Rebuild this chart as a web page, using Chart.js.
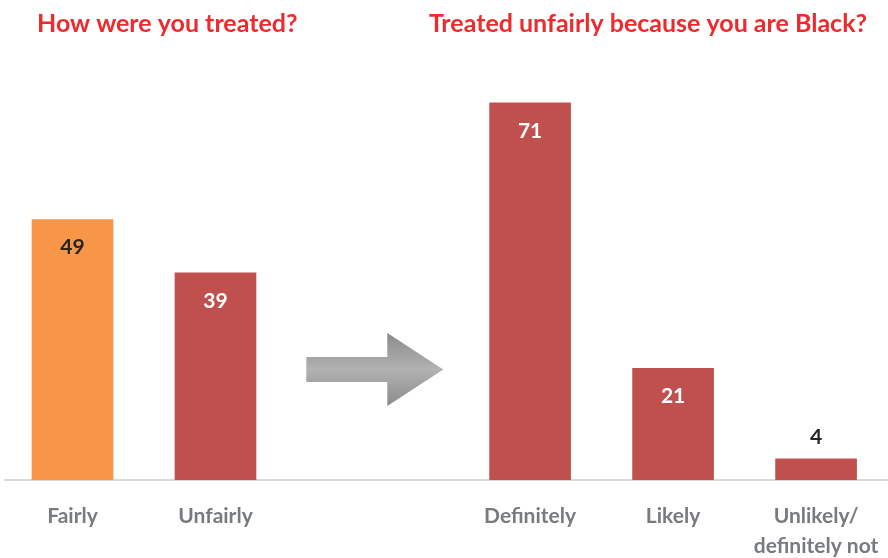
<!DOCTYPE html>
<html>
<head>
<meta charset="utf-8">
<script src="https://cdn.jsdelivr.net/npm/chart.js@4"></script>
<style>
  html, body { margin: 0; padding: 0; background: #ffffff; }
  #wrap { width: 888px; height: 558px; }
</style>
</head>
<body>
<div id="wrap"><canvas id="c" width="888" height="558"></canvas></div>
<script>
// ---- data ----
const titles = ['How were you treated?', 'Treated unfairly because you are Black?'];
const categories = ['Fairly', 'Unfairly', 'Definitely', 'Likely', 'Unlikely/\ndefinitely not'];
const values = [49, 39, 71, 21, 4];
const barColors = ['#f79646', '#c0504d', '#c0504d', '#c0504d', '#c0504d'];
const valueLabelColors = ['#262626', '#ffffff', '#ffffff', '#ffffff', '#262626'];

// layout: first group in slots 0,1; second group after the arrow gap
const xPos = categories.map((_, i) => (i < 2 ? i : i + 1.2));

const FONT = 'Lato, "DejaVu Sans", sans-serif';

const decorPlugin = {
  id: 'decor',
  beforeDatasetsDraw(chart) {
    const ctx = chart.ctx;
    const xs = chart.scales.x;
    const ys = chart.scales.y;
    const cx = (xs.getPixelForValue(xPos[1]) + xs.getPixelForValue(xPos[2])) / 2 + 2;
    const cy = ys.getPixelForValue(20.8);
    const L = 137, shaftH = 25, headH = 73, headL = 56;
    const x0 = cx - L / 2, x1 = cx + L / 2, xb = x1 - headL;
    const g = ctx.createLinearGradient(0, cy - headH / 2, 0, cy + headH / 2);
    g.addColorStop(0, '#8a8a8a');
    g.addColorStop(0.5, '#b2b2b2');
    g.addColorStop(1, '#8a8a8a');
    ctx.save();
    ctx.beginPath();
    ctx.moveTo(x0, cy - shaftH / 2);
    ctx.lineTo(xb, cy - shaftH / 2);
    ctx.lineTo(xb, cy - headH / 2);
    ctx.lineTo(x1, cy);
    ctx.lineTo(xb, cy + headH / 2);
    ctx.lineTo(xb, cy + shaftH / 2);
    ctx.lineTo(x0, cy + shaftH / 2);
    ctx.closePath();
    ctx.fillStyle = g;
    ctx.fill();
    ctx.restore();
  },
  afterDatasetsDraw(chart) {
    const ctx = chart.ctx;
    const meta = chart.getDatasetMeta(0);
    ctx.save();
    ctx.font = 'bold 21px ' + FONT;
    ctx.textAlign = 'center';
    ctx.textBaseline = 'middle';
    meta.data.forEach((bar, i) => {
      const inside = values[i] >= 10;
      const y = inside ? bar.y + 28 : bar.y - 22;
      ctx.fillStyle = valueLabelColors[i];
      ctx.fillText(String(values[i]), bar.x, y);
    });
    // titles
    ctx.font = 'bold 25px ' + FONT;
    ctx.fillStyle = '#ee2a2e';
    ctx.textBaseline = 'alphabetic';
    ctx.textAlign = 'left';
    ctx.fillText(titles[0], 37, 32);
    ctx.textAlign = 'right';
    ctx.fillText(titles[1], 867, 32);
    ctx.restore();
  }
};

new Chart(document.getElementById('c'), {
  type: 'bar',
  data: {
    datasets: [{
      data: values.map((v, i) => ({ x: xPos[i], y: v })),
      backgroundColor: barColors,
      barThickness: 81,
      borderWidth: 0
    }]
  },
  options: {
    responsive: false,
    animation: false,
    devicePixelRatio: 1,
    layout: { padding: { top: 55, left: 5, right: 0, bottom: 0 } },
    plugins: { legend: { display: false }, tooltip: { enabled: false }, title: { display: false } },
    scales: {
      x: {
        type: 'linear',
        offset: false,
        min: -0.472,
        max: 5.703,
        grid: { display: false },
        border: { display: true, color: '#d9d9d9', width: 2 },
        afterBuildTicks: axis => { axis.ticks = xPos.map(v => ({ value: v })); },
        afterFit: s => { s.height = 78; s.paddingLeft = 0; s.paddingRight = 0; },
        ticks: {
          autoSkip: false,
          maxRotation: 0,
          padding: 13,
          color: '#777a7e',
          font: { family: FONT, size: 21, weight: 'bold', lineHeight: 1.45 },
          callback: (v, i) => categories[i].split('\n')
        }
      },
      y: { display: false, min: 0, max: 80 }
    }
  },
  plugins: [decorPlugin]
});
</script>
</body>
</html>
